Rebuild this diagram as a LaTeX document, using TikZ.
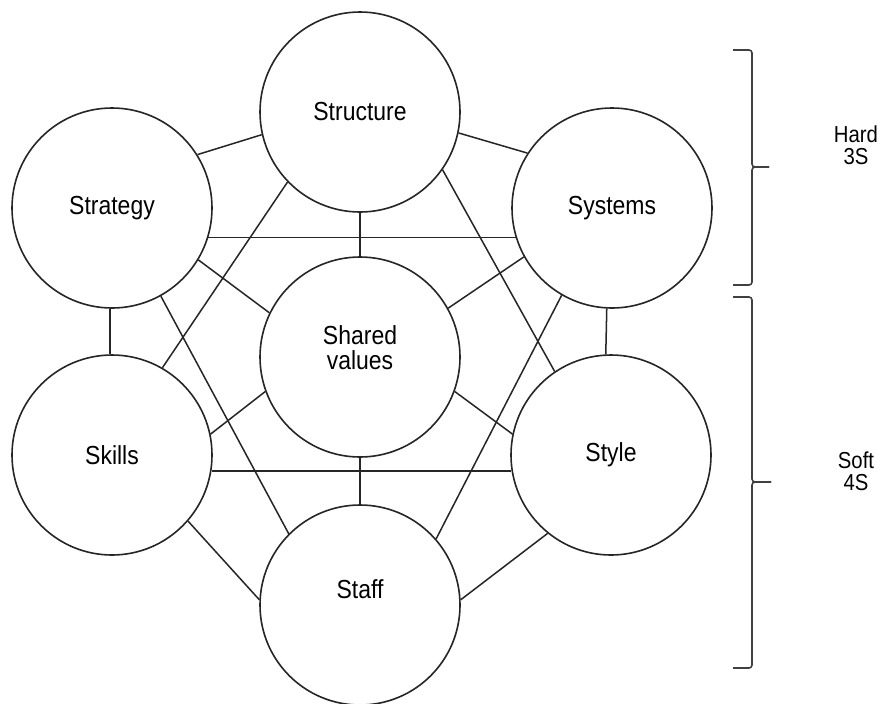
\documentclass[tikz,border=0pt]{standalone}
\usepackage{fontspec}
\setmainfont{Liberation Sans}
\newfontfamily\narrowsans[FakeStretch=0.88]{Liberation Sans}
\usepackage{tikz}

\begin{document}
\begin{tikzpicture}[scale=0.35]
    \tikzstyle{every node}+=[inner sep=0pt]
    \tikzstyle{sbox}=[draw=black!85, circle, minimum size=7cm, line width=1.6pt, font=\narrowsans\fontsize{26}{25}\selectfont]
    \tikzstyle{lbl}=[align=center, font=\narrowsans\fontsize{26}{25}\selectfont]
    \tikzstyle{side}=[align=center, font=\narrowsans\fontsize{23}{22}\selectfont]
    \tikzstyle{link}=[black!85, line width=1.5pt]
    \tikzstyle{bracket}=[black!75, line width=1.6pt, rounded corners=3pt]
    \useasboundingbox (0,0) rectangle (88.2,-70.3);
    \node [sbox] (structure) at (36,-11.2) {Structure};
    \node [sbox] (strategy) at (11.2,-20.8) {Strategy};
    \node [sbox] (systems) at (61.2,-20.8) {Systems};
    \node [sbox, label={[lbl, yshift=9pt]center:Shared\\values}] (shared) at (36,-35.7) {};
    \node [sbox] (skills) at (11.2,-45.5) {Skills};
    \node [sbox] (style) at (61.1,-45.5) {Style};
    \node [sbox, label={[lbl, yshift=16pt]center:Staff}] (staff) at (36,-60.5) {};
    \draw [link] (structure.193) -- (strategy.32);
    \draw [link] (structure.-12) -- (systems.147);
    \draw [link] (structure.-90) -- (shared.90);
    \draw [link] (structure.224) -- (skills.60);
    \draw [link] (structure.-35) -- (style.124);
    \draw [link] (strategy.-17) -- (systems.197);
    \draw [link] (strategy.-31) -- (shared.154);
    \draw [link] (strategy.-91) -- (skills.91);
    \draw [link] (strategy.-61) -- (staff.135);
    \draw [link] (systems.209) -- (shared.29);
    \draw [link] (systems.-93) -- (style.93);
    \draw [link] (systems.240) -- (staff.41);
    \draw [link] (skills.12) -- (shared.200);
    \draw [link] (skills.-9) -- (style.189);
    \draw [link] (skills.-41) -- (staff.177);
    \draw [link] (style.168) -- (shared.-20);
    \draw [link] (style.231) -- (staff.3);
    \draw [link] (shared.-90) -- (staff.90);
    \coordinate (hardtip) at (76.9,-16.7);
    \coordinate (softtip) at (77.1,-48.2);
    \draw [bracket] (73.3,-5.0) -- (75.2,-5.0) -- (75.2,-16.7) -- (hardtip);
    \draw [bracket] (hardtip) -- (75.2,-16.7) -- (75.2,-28.5) -- (73.3,-28.5);
    \draw [bracket] (73.3,-29.7) -- (75.2,-29.7) -- (75.2,-48.2) -- (softtip);
    \draw [bracket] (softtip) -- (75.2,-48.2) -- (75.2,-66.8) -- (73.3,-66.8);
    \node [side] (hard) at (85.6,-14.5) {Hard\\3S};
    \node [side] (soft) at (85.6,-47.1) {Soft\\4S};
\end{tikzpicture}
\end{document}
